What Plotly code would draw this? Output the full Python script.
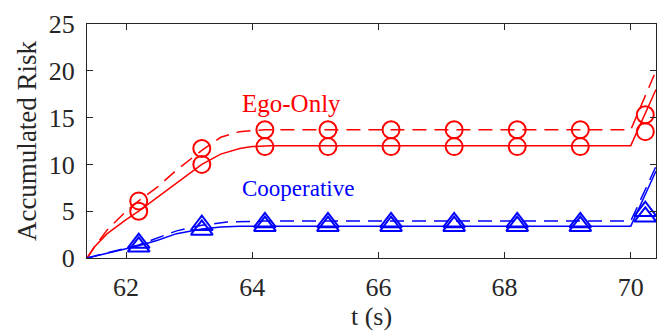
import plotly.graph_objects as go

# Ego-Only solid line
ego_s_t = [61.38, 61.5, 61.7, 62.0, 62.2, 62.5, 62.8, 63.0, 63.2, 63.5, 63.8, 64.0, 64.3, 64.6, 70.0, 70.4]
ego_s_v = [0.0, 1.2, 2.6, 4.1, 5.0, 6.5, 8.0, 9.0, 10.0, 11.1, 11.7, 11.9, 12.0, 12.0, 12.0, 18.0]
# Ego-Only dashed line
ego_d_t = [61.38, 61.5, 61.7, 62.0, 62.2, 62.5, 62.8, 63.2, 63.5, 63.8, 64.2, 70.0, 70.4]
ego_d_v = [0.0, 1.2, 3.0, 5.0, 6.1, 7.6, 9.4, 11.5, 12.9, 13.5, 13.7, 13.7, 20.0]
# Cooperative solid line
coop_s_t = [61.38, 62.0, 62.2, 62.5, 62.8, 63.2, 63.5, 63.8, 64.2, 70.0, 70.4]
coop_s_v = [0.0, 1.0, 1.3, 1.9, 2.6, 3.1, 3.3, 3.4, 3.4, 3.4, 9.3]
# Cooperative dashed line
coop_d_t = [61.38, 62.2, 62.8, 63.2, 63.6, 64.2, 70.0, 70.4]
coop_d_v = [0.0, 1.4, 2.9, 3.5, 3.85, 3.95, 3.95, 9.8]

# markers
mk_t = [62.2, 63.2, 64.2, 65.2, 66.2, 67.2, 68.2, 69.2, 70.23]
ego_s_m = [5.0, 10.0, 11.9, 11.9, 11.9, 11.9, 11.9, 11.9, 13.5]
ego_d_m = [6.1, 11.7, 13.7, 13.7, 13.7, 13.7, 13.7, 13.7, 15.3]
coop_s_m = [1.2, 3.0, 3.4, 3.4, 3.4, 3.4, 3.4, 3.4, 4.4]
coop_d_m = [1.6, 3.5, 3.8, 3.8, 3.8, 3.8, 3.8, 3.8, 5.0]

x_ticks = [62, 64, 66, 68, 70]
y_ticks = [0, 5, 10, 15, 20, 25]

RED = "#ff0000"
BLUE = "#0000ff"
FONT = "Liberation Serif"
AX = "#262626"

fig = go.Figure()

def line(t, v, color, dash):
    fig.add_trace(go.Scatter(x=t, y=v, mode="lines",
                             line=dict(color=color, width=1.5, dash=dash),
                             showlegend=False, hoverinfo="skip"))

def marks(t, v, color, symbol, size):
    fig.add_trace(go.Scatter(x=t, y=v, mode="markers",
                             marker=dict(symbol=symbol, size=size, color=color,
                                         line=dict(color=color, width=2)),
                             showlegend=False, hoverinfo="skip"))

line(ego_s_t, ego_s_v, RED, "solid")
line(ego_d_t, ego_d_v, RED, "14px,8px")
line(coop_s_t, coop_s_v, BLUE, "solid")
line(coop_d_t, coop_d_v, BLUE, "14px,8px")
marks(mk_t, ego_s_m, RED, "circle-open", 17)
marks(mk_t, ego_d_m, RED, "circle-open", 17)
marks(mk_t, coop_s_m, BLUE, "triangle-up-open", 19)
marks(mk_t, coop_d_m, BLUE, "triangle-up-open", 19)

fig.add_annotation(x=64.62, y=16.5, text="Ego-Only", showarrow=False,
                   font=dict(family=FONT, size=25, color=RED))
fig.add_annotation(x=64.72, y=7.4, text="Cooperative", showarrow=False,
                   font=dict(family=FONT, size=23, color=BLUE))

axis_common = dict(showgrid=False, zeroline=False, showline=True, mirror="ticks",
                   linecolor=AX, linewidth=1.2, ticks="inside", ticklen=6,
                   tickcolor=AX, tickwidth=1.2, ticklabelstandoff=6,
                   tickfont=dict(family=FONT, size=26, color=AX))

fig.update_layout(
    width=667, height=333, plot_bgcolor="white", paper_bgcolor="white",
    font=dict(family=FONT, size=26, color=AX),
    margin=dict(l=87, r=10, t=21, b=75),
    xaxis=dict(range=[61.38, 70.4], tickvals=x_ticks,
               title=dict(text="t (s)", font=dict(family=FONT, size=26, color=AX), standoff=2),
               **axis_common),
    yaxis=dict(range=[0, 25], tickvals=y_ticks,
               title=dict(text="Accumulated Risk", font=dict(family=FONT, size=27, color=AX), standoff=4),
               **axis_common),
)

fig.write_html("out.html")
